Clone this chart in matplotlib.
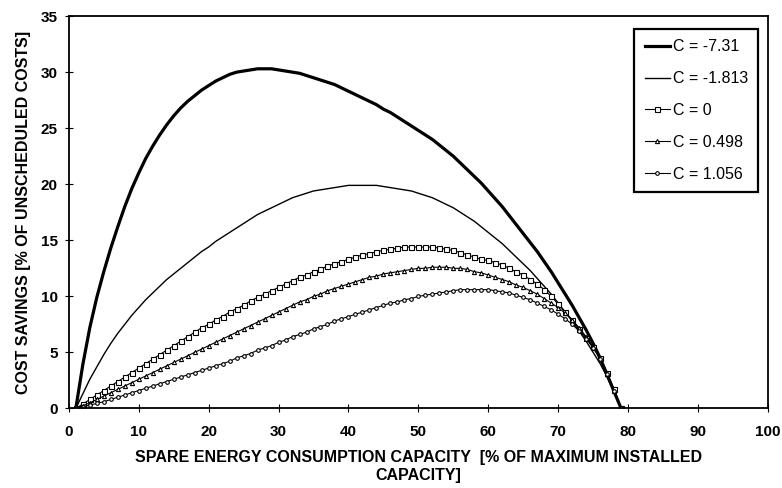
import matplotlib.pyplot as plt
import numpy as np

# spare capacity, % of maximum installed capacity
capacity = np.arange(1, 80)

# cost savings, % of unscheduled costs, one list per C value
savings_c_m731 = [
    0, 3.9, 7.2, 9.9, 12.2, 14.3, 16.2, 18.0, 19.6, 21.0,
    22.3, 23.4, 24.4, 25.3, 26.1, 26.8, 27.4, 27.9, 28.4, 28.8,
    29.2, 29.5, 29.8, 30.0, 30.1, 30.2, 30.3, 30.3, 30.3, 30.2,
    30.1, 30.0, 29.9, 29.7, 29.5, 29.3, 29.1, 28.9, 28.6, 28.3,
    28.0, 27.7, 27.4, 27.1, 26.7, 26.4, 26.0, 25.6, 25.2, 24.8,
    24.4, 24.0, 23.5, 23.0, 22.5, 21.9, 21.3, 20.7, 20.1, 19.4,
    18.7, 18.0, 17.2, 16.4, 15.6, 14.8, 14.0, 13.1, 12.2, 11.2,
    10.2, 9.2, 8.1, 7.0, 5.8, 4.5, 3.0, 1.5, 0,
]
savings_c_m1813 = [
    0, 1.3, 2.6, 3.7, 4.8, 5.8, 6.7, 7.5, 8.3, 9.0,
    9.7, 10.3, 10.9, 11.5, 12.0, 12.5, 13.0, 13.5, 14.0, 14.4,
    14.9, 15.3, 15.7, 16.1, 16.5, 16.9, 17.3, 17.6, 17.9, 18.2,
    18.5, 18.8, 19.0, 19.2, 19.4, 19.5, 19.6, 19.7, 19.8, 19.9,
    19.9, 19.9, 19.9, 19.9, 19.8, 19.7, 19.6, 19.5, 19.4, 19.2,
    19.0, 18.8, 18.5, 18.2, 17.9, 17.5, 17.1, 16.7, 16.2, 15.7,
    15.2, 14.7, 14.1, 13.5, 12.9, 12.3, 11.6, 10.9, 10.2, 9.4,
    8.6, 7.8, 6.9, 6.0, 5.0, 4.0, 2.8, 1.5, 0,
]
savings_c_0 = [
    0, 0.4, 0.8, 1.2, 1.6, 2.0, 2.4, 2.8, 3.2, 3.6,
    4.0, 4.4, 4.8, 5.2, 5.6, 6.0, 6.4, 6.8, 7.2, 7.5,
    7.9, 8.2, 8.6, 8.9, 9.2, 9.6, 9.9, 10.2, 10.5, 10.8,
    11.1, 11.4, 11.7, 11.9, 12.2, 12.4, 12.7, 12.9, 13.1, 13.3,
    13.5, 13.7, 13.8, 14.0, 14.1, 14.2, 14.3, 14.4, 14.4, 14.4,
    14.4, 14.4, 14.3, 14.2, 14.1, 13.9, 13.7, 13.5, 13.3, 13.2,
    13.0, 12.8, 12.5, 12.2, 11.9, 11.5, 11.1, 10.6, 10.0, 9.3,
    8.6, 7.9, 7.1, 6.3, 5.5, 4.5, 3.2, 1.7, 0,
]
savings_c_0498 = [
    0, 0.25, 0.5, 0.8, 1.1, 1.4, 1.7, 2.0, 2.3, 2.6,
    2.9, 3.2, 3.5, 3.8, 4.1, 4.4, 4.7, 5.0, 5.3, 5.6,
    5.9, 6.2, 6.5, 6.8, 7.1, 7.4, 7.7, 8.0, 8.3, 8.6,
    8.9, 9.2, 9.5, 9.7, 10.0, 10.2, 10.5, 10.7, 10.9, 11.1,
    11.3, 11.5, 11.7, 11.8, 12.0, 12.1, 12.2, 12.3, 12.4, 12.5,
    12.5, 12.6, 12.6, 12.6, 12.5, 12.5, 12.4, 12.2, 12.1, 11.9,
    11.7, 11.5, 11.3, 11.0, 10.8, 10.5, 10.2, 9.8, 9.4, 9.0,
    8.5, 7.9, 7.2, 6.4, 5.5, 4.4, 3.1, 1.6, 0,
]
savings_c_1056 = [
    0, 0.15, 0.3, 0.45, 0.6, 0.8, 1.0, 1.2, 1.4, 1.6,
    1.8, 2.0, 2.2, 2.4, 2.6, 2.8, 3.0, 3.2, 3.4, 3.6,
    3.8, 4.0, 4.2, 4.5, 4.7, 4.9, 5.2, 5.4, 5.6, 5.9,
    6.1, 6.4, 6.6, 6.8, 7.1, 7.3, 7.5, 7.8, 8.0, 8.2,
    8.4, 8.6, 8.8, 9.0, 9.2, 9.4, 9.5, 9.7, 9.8, 10.0,
    10.1, 10.2, 10.3, 10.4, 10.5, 10.6, 10.6, 10.6, 10.6, 10.6,
    10.5, 10.4, 10.3, 10.1, 9.9, 9.7, 9.4, 9.1, 8.8, 8.4,
    8.0, 7.5, 6.9, 6.2, 5.4, 4.4, 3.1, 1.6, 0,
]

series_labels = ['C = -7.31', 'C = -1.813', 'C = 0', 'C = 0.498', 'C = 1.056']
x_ticks = list(range(0, 101, 10))
y_ticks = list(range(0, 36, 5))

plt.rcParams['font.family'] = ['Liberation Sans', 'DejaVu Sans']

fig = plt.figure(figsize=(7.82, 4.88), dpi=100)
ax = fig.add_axes([0.088, 0.163, 0.894, 0.804])

# plain curves first, then the marked ones
ax.plot(capacity, savings_c_m731, color='black', linewidth=2.3, label=series_labels[0])
ax.plot(capacity, savings_c_m1813, color='black', linewidth=1.0, label=series_labels[1])

marked = [
    (savings_c_0, 's', 3.6, series_labels[2]),
    (savings_c_0498, '^', 3.0, series_labels[3]),
    (savings_c_1056, 'o', 2.6, series_labels[4]),
]
for values, marker, size, label in marked:
    ax.plot(capacity, values, color='black', linewidth=0.8, marker=marker,
            markersize=size, markerfacecolor='white', markeredgecolor='black',
            markeredgewidth=0.8, label=label)

ax.set_xlim(0, 100)
ax.set_ylim(0, 35)
ax.set_xticks(x_ticks)
ax.set_yticks(y_ticks)

for spine in ax.spines.values():
    spine.set_linewidth(1.3)
ax.tick_params(direction='inout', length=6, width=0.8, labelsize=11)
ax.tick_params(axis='x', pad=9)
ax.tick_params(axis='y', pad=5)
for tick_label in ax.get_xticklabels() + ax.get_yticklabels():
    tick_label.set_fontweight('bold')

ax.set_xlabel('SPARE ENERGY CONSUMPTION CAPACITY  [% OF MAXIMUM INSTALLED\nCAPACITY]',
              fontsize=11.5, fontweight='bold', labelpad=8, linespacing=1.2)
ax.set_ylabel('COST SAVINGS [% OF UNSCHEDULED COSTS]', fontsize=11.5,
              fontweight='bold', labelpad=7)

legend = ax.legend(loc='upper right', bbox_to_anchor=(0.986, 0.967), fontsize=11.5,
                   frameon=True, fancybox=False, edgecolor='black', framealpha=1,
                   borderpad=0.65, labelspacing=1.05, handlelength=1.6,
                   handletextpad=0.15, borderaxespad=0)
legend.get_frame().set_linewidth(1.6)

fig.savefig('out.png', dpi=100)
